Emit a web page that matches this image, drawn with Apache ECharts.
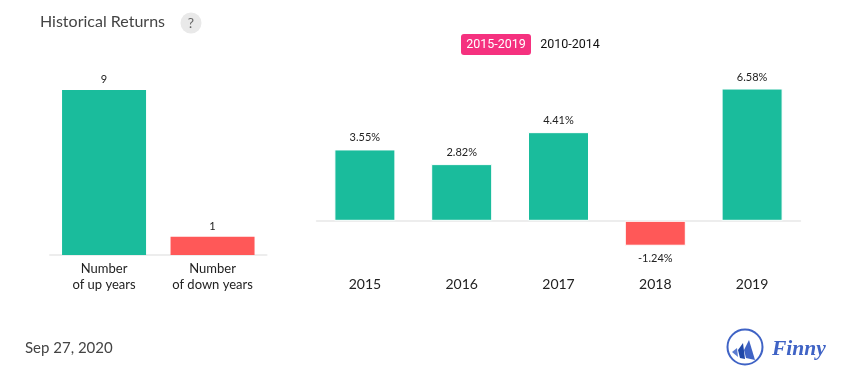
<!DOCTYPE html>
<html>
<head>
<meta charset="utf-8">
<title>Historical Returns</title>
<script src="https://cdn.jsdelivr.net/npm/echarts@6/dist/echarts.min.js"></script>
<style>
  html, body { margin: 0; padding: 0; background: #fff; }
  #chart { width: 855px; height: 382px; }
</style>
</head>
<body>
<div id="chart"></div>
<script>
// left panel
var countLabels = ["Number\nof up years", "Number\nof down years"];
var countValues = [9, 1];
// right panel
var years = ["2015", "2016", "2017", "2018", "2019"];
var returns = [3.55, 2.82, 4.41, -1.24, 6.58];
var periods = ["2015-2019", "2010-2014"];

var GREEN = "#1abc9c";
var RED = "#ff5858";
var FONT = "Lato";

var countData = countValues.map(function (v, i) {
  return { value: v, itemStyle: { color: i === 0 ? GREEN : RED } };
});
var returnData = returns.map(function (v) {
  return {
    value: v,
    itemStyle: { color: v < 0 ? RED : GREEN },
    label: { position: v < 0 ? "bottom" : "top", distance: v < 0 ? 7 : 6 },
  };
});

var myChart = echarts.init(document.getElementById("chart"), null, { renderer: "canvas" });

myChart.setOption({
  animation: false,
  backgroundColor: "#fff",
  grid: [
    { left: 49.8, width: 217, top: 53.3, height: 201.7 },
    { left: 316.5, width: 484, top: 60, height: 201 },
  ],
  xAxis: [
    {
      type: "category",
      gridIndex: 0,
      data: countLabels,
      axisTick: { show: false },
      axisLine: { lineStyle: { color: "#e8e8e8", width: 1.5 } },
      axisLabel: { interval: 0, color: "#222", fontFamily: FONT, fontSize: 13, lineHeight: 16, margin: 6 },
    },
    {
      type: "category",
      gridIndex: 1,
      data: years,
      axisTick: { show: false },
      axisLine: { onZero: true, lineStyle: { color: "#e8e8e8", width: 1.5 } },
      axisLabel: { color: "#222", fontFamily: FONT, fontSize: 14, margin: 16 },
    },
  ],
  yAxis: [
    { type: "value", gridIndex: 0, min: 0, max: 11, show: false },
    { type: "value", gridIndex: 1, min: -2, max: 8, show: false },
  ],
  series: [
    {
      type: "bar",
      xAxisIndex: 0,
      yAxisIndex: 0,
      data: countData,
      barWidth: 84,
      label: { show: true, position: "top", color: "#222", fontFamily: FONT, fontSize: 11, distance: 5 },
    },
    {
      type: "bar",
      xAxisIndex: 1,
      yAxisIndex: 1,
      data: returnData,
      barWidth: 61,
      itemStyle: { borderColor: "#fff", borderWidth: 1 },
      label: {
        show: true,
        color: "#222",
        fontFamily: FONT,
        fontSize: 11,
        formatter: function (p) { return p.value.toFixed(2) + "%"; },
      },
    },
  ],
  graphic: [
    { type: "text", left: 40, top: 14, style: { text: "Historical Returns", fill: "#444", font: "16px Lato" } },
    { type: "circle", shape: { cx: 191, cy: 23, r: 10.5 }, style: { fill: "#e9e9e9" } },
    { type: "text", x: 191, y: 23, style: { text: "?", fill: "#666", font: "14px Lato", align: "center", verticalAlign: "middle" } },
    // period switch
    { type: "rect", shape: { x: 461, y: 34, width: 70, height: 21, r: 3 }, style: { fill: "#f5317f" } },
    { type: "text", x: 496, y: 45, style: { text: periods[0], fill: "#fff", font: "12.5px Roboto", align: "center", verticalAlign: "middle" } },
    { type: "text", x: 570, y: 45, style: { text: periods[1], fill: "#111", font: "12.5px Roboto", align: "center", verticalAlign: "middle" } },
    // footer
    { type: "text", left: 25, top: 341, style: { text: "Sep 27, 2020", fill: "#444", font: "15px Lato" } },
    // logo
    { type: "circle", shape: { cx: 745, cy: 347, r: 17.5 }, style: { fill: "none", stroke: "#3f63c5", lineWidth: 2 } },
    { type: "polygon", shape: { points: [[737, 348], [732, 352], [738, 357]] }, style: { fill: "#5a7bd0" } },
    { type: "polygon", shape: { points: [[743, 343], [738, 350], [740, 358], [745, 359]] }, style: { fill: "#1f47a8" } },
    { type: "polygon", shape: { points: [[749, 340], [744, 350], [746, 358], [755, 360]] }, style: { fill: "#3f63c5" } },
    { type: "text", x: 772, y: 349, style: { text: "Finny", fill: "#3f63c5", font: "italic bold 21.5px 'Liberation Serif'", verticalAlign: "middle" } },
  ],
});
</script>
</body>
</html>
